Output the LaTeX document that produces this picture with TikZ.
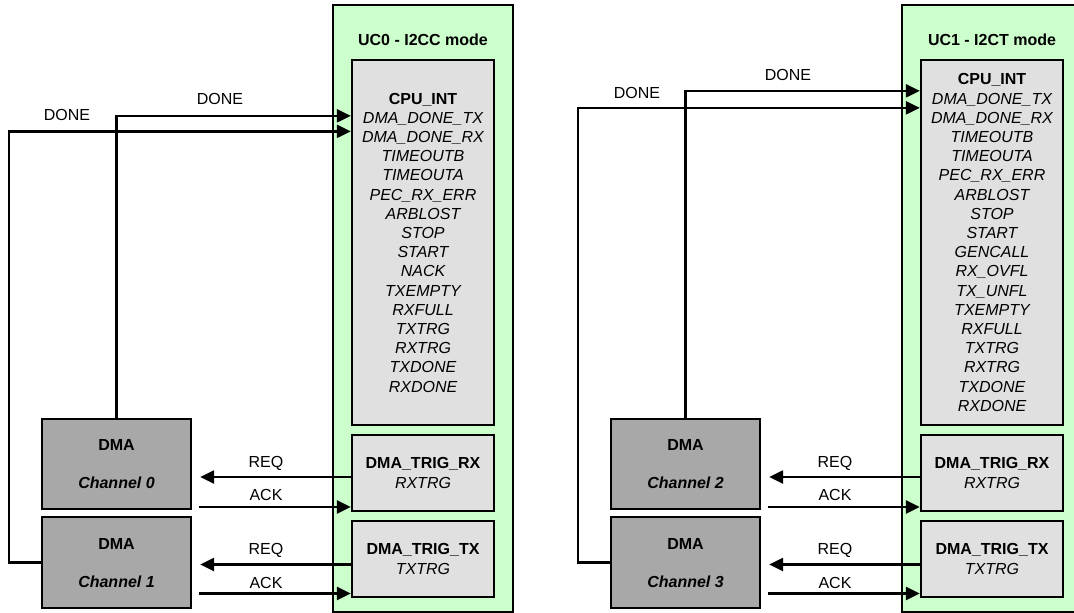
\documentclass[tikz,border=0pt]{standalone}
\usepackage{fontspec}
\setmainfont{Liberation Sans}
\usepackage{tikz}
\usetikzlibrary{arrows.meta,positioning}
\usepackage{xcolor}
\definecolor{ucgreen}{HTML}{CCFFCC}
\definecolor{cpugray}{HTML}{E0E0E0}
\definecolor{dmagray}{HTML}{A8A8A8}
\newcommand{\sigfont}{\fontsize{16pt}{19.2pt}\selectfont}
\tikzset{
    ucbox/.style={
        draw,
        fill=ucgreen,
        line width=2.3pt,
        minimum width=180pt,
        minimum height=607pt
    },
    cpubox/.style={
        draw,
        fill=cpugray,
        line width=2.3pt,
        align=center,
        inner sep=0pt,
        text depth=0pt,
        minimum width=142pt,
        font=\sigfont\itshape
    },
    dmabox/.style={
        draw,
        fill=dmagray,
        line width=2.3pt,
        align=center,
        inner sep=0pt,
        text depth=0pt,
        minimum width=149pt,
        font=\sigfont\bfseries
    },
    link/.style={
        -{Triangle[length=14pt,width=13pt]},
        line width=2.3pt
    },
    siglabel/.style={
        font=\sigfont,
        inner sep=0pt,
        text depth=0pt
    },
    boxtitle/.style={
        font=\sigfont\bfseries,
        inner sep=0pt,
        text depth=0pt
    }
}

\begin{document}
\begin{tikzpicture}[x=1pt,y=-1pt]

    % Cadre
    \useasboundingbox (0,0) rectangle (1074,613);
    \clip (0,0) rectangle (1074,613);

    % Bloc UC0
    \node[ucbox] (uc0) at (423,308.5) {};
    \node[boxtitle] (uc0title) at (423,40) {UC0 - I2CC mode};

    % Interruptions UC0
    \node[cpubox, minimum height=365pt] (cpu0) at (423,242.5)
        {\textup{\textbf{CPU\_INT}}\\DMA\_DONE\_TX\\DMA\_DONE\_RX\\TIMEOUTB\\
         TIMEOUTA\\PEC\_RX\_ERR\\ARBLOST\\STOP\\START\\NACK\\TXEMPTY\\
         RXFULL\\TXTRG\\RXTRG\\TXDONE\\RXDONE};

    % Declencheurs UC0
    \node[cpubox, minimum height=76pt] (trx0) at (423,473)
        {\textup{\textbf{DMA\_TRIG\_RX}}\\RXTRG};
    \node[cpubox, minimum height=76pt] (ttx0) at (423,559)
        {\textup{\textbf{DMA\_TRIG\_TX}}\\TXTRG};

    % Canaux DMA 0 et 1
    \node[dmabox, minimum height=90pt] (ch0) at (116.5,464)
        {DMA\\[18.8pt]\textit{Channel 0}};
    \node[dmabox, minimum height=91pt] (ch1) at (116.5,562.5)
        {DMA\\[18.8pt]\textit{Channel 1}};

    % Bloc UC1
    \node[ucbox] (uc1) at (992,308.5) {};
    \node[boxtitle] (uc1title) at (992,40) {UC1 - I2CT mode};

    % Interruptions UC1
    \node[cpubox, minimum height=365pt] (cpu1) at (992,242.5)
        {\textup{\textbf{CPU\_INT}}\\DMA\_DONE\_TX\\DMA\_DONE\_RX\\TIMEOUTB\\
         TIMEOUTA\\PEC\_RX\_ERR\\ARBLOST\\STOP\\START\\GENCALL\\RX\_OVFL\\
         TX\_UNFL\\TXEMPTY\\RXFULL\\TXTRG\\RXTRG\\TXDONE\\RXDONE};

    % Declencheurs UC1
    \node[cpubox, minimum height=76pt] (trx1) at (992,473)
        {\textup{\textbf{DMA\_TRIG\_RX}}\\RXTRG};
    \node[cpubox, minimum height=76pt] (ttx1) at (992,559)
        {\textup{\textbf{DMA\_TRIG\_TX}}\\TXTRG};

    % Canaux DMA 2 et 3
    \node[dmabox, minimum height=90pt] (ch2) at (685.5,464)
        {DMA\\[18.8pt]\textit{Channel 2}};
    \node[dmabox, minimum height=91pt] (ch3) at (685.5,562.5)
        {DMA\\[18.8pt]\textit{Channel 3}};

    % DONE vers UC0
    \draw[link]
        (ch0.north) |- ([yshift=-57pt]cpu0.north west);
    \draw[link]
        (ch1.west) -- ++(-32,0) |- ([yshift=-72.5pt]cpu0.north west);

    % REQ / ACK UC0
    \draw[link]
        ([yshift=-4pt]trx0.west) -- ([xshift=8pt,yshift=-13pt]ch0.east);
    \draw[link]
        ([xshift=7pt,yshift=-43pt]ch0.east) -- ([yshift=-34pt]trx0.west);
    \draw[link]
        ([yshift=-5.5pt]ttx0.west) -- ([xshift=8pt,yshift=-2pt]ch1.east);
    \draw[link]
        ([xshift=7pt,yshift=-31pt]ch1.east) -- ([yshift=-34.5pt]ttx0.west);

    % DONE vers UC1
    \draw[link]
        (ch2.north) |- ([yshift=-32pt]cpu1.north west);
    \draw[link]
        (ch3.west) -- ++(-32,0) |- ([yshift=-49pt]cpu1.north west);

    % REQ / ACK UC1
    \draw[link]
        ([yshift=-4pt]trx1.west) -- ([xshift=8pt,yshift=-13pt]ch2.east);
    \draw[link]
        ([xshift=7pt,yshift=-43pt]ch2.east) -- ([yshift=-34pt]trx1.west);
    \draw[link]
        ([yshift=-5.5pt]ttx1.west) -- ([xshift=8pt,yshift=-2pt]ch3.east);
    \draw[link]
        ([xshift=7pt,yshift=-31pt]ch3.east) -- ([yshift=-34.5pt]ttx1.west);

    % Etiquettes UC0
    \node[siglabel] (done0) at (220,99) {DONE};
    \node[siglabel] (done1) at (67,115) {DONE};
    \node[siglabel] (req0) at (266,462) {REQ};
    \node[siglabel] (ack0) at (266,495) {ACK};
    \node[siglabel] (req1) at (266,549) {REQ};
    \node[siglabel] (ack1) at (266,583) {ACK};

    % Etiquettes UC1
    \node[siglabel] (done2) at (788,75) {DONE};
    \node[siglabel] (done3) at (637,93) {DONE};
    \node[siglabel] (req2) at (835,462) {REQ};
    \node[siglabel] (ack2) at (835,495) {ACK};
    \node[siglabel] (req3) at (835,549) {REQ};
    \node[siglabel] (ack3) at (835,583) {ACK};

\end{tikzpicture}
\end{document}
